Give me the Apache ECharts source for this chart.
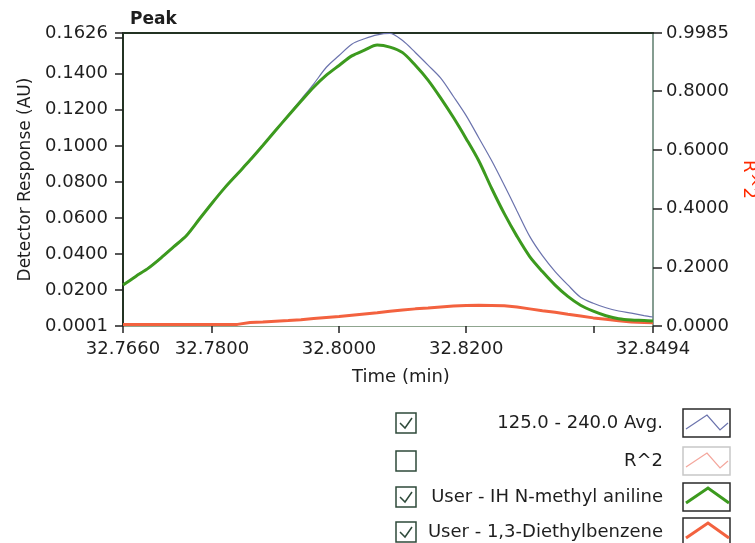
<!DOCTYPE html>
<html><head><meta charset="utf-8">
<script src="https://cdn.jsdelivr.net/npm/echarts@6/dist/echarts.min.js"></script>
<style>html,body{margin:0;padding:0;background:#fff}#c{width:755px;height:543px}</style>
</head><body><div id="c"></div>
<script>
// ---- data ----
const times = [32.766,32.768,32.770,32.772,32.774,32.776,32.778,32.780,32.782,32.784,32.786,32.788,32.790,32.792,32.794,32.796,32.798,32.800,32.802,32.804,32.806,32.808,32.810,32.812,32.814,32.816,32.818,32.820,32.822,32.824,32.826,32.828,32.830,32.832,32.834,32.836,32.838,32.840,32.842,32.844,32.846,32.848,32.8494];
const avg = [0.0231,0.0279,0.0325,0.0382,0.0444,0.0506,0.0596,0.0685,0.0770,0.0847,0.0924,0.1005,0.1088,0.1171,0.1257,0.1343,0.1436,0.1501,0.1564,0.1594,0.1616,0.1624,0.1584,0.1518,0.1448,0.1376,0.1274,0.1168,0.1044,0.0919,0.0782,0.0639,0.0498,0.0391,0.0303,0.0229,0.0160,0.0127,0.0102,0.0084,0.0072,0.0059,0.0051];
const nma = [0.0228,0.0276,0.0322,0.0379,0.0441,0.0503,0.0593,0.0682,0.0767,0.0844,0.0921,0.1002,0.1085,0.1167,0.1247,0.1325,0.1392,0.1446,0.1499,0.1531,0.1559,0.1548,0.1517,0.1447,0.1365,0.1265,0.1157,0.1040,0.0916,0.0765,0.0624,0.0498,0.0386,0.0303,0.0228,0.0165,0.0116,0.0083,0.0058,0.0041,0.0034,0.0032,0.0029];
const deb = [0.0010,0.0010,0.0010,0.0010,0.0010,0.0010,0.0010,0.0010,0.0010,0.0010,0.0020,0.0023,0.0027,0.0031,0.0036,0.0042,0.0048,0.0054,0.0061,0.0068,0.0075,0.0083,0.0090,0.0096,0.0101,0.0107,0.0112,0.0115,0.0116,0.0115,0.0113,0.0106,0.0096,0.0086,0.0077,0.0066,0.0056,0.0046,0.0038,0.0030,0.0023,0.0020,0.0019];
const leftTicks = [0.0001,0.02,0.04,0.06,0.08,0.10,0.12,0.14,0.16,0.1626];
const leftLabels = [0.0001,0.02,0.04,0.06,0.08,0.10,0.12,0.14,0.1626];
const rightTicks = [0,0.2,0.4,0.6,0.8,0.9985];
const xTicks = [32.766,32.78,32.80,32.82,32.84,32.8494];
const xLabels = [32.766,32.78,32.80,32.82,32.8494];
const legendNames = ['125.0 - 240.0 Avg.','R^2','User - IH N-methyl aniline','User - 1,3-Diethylbenzene'];
const legendChecked = [true,false,true,true];

// ---- styles ----
const FONT = 'DejaVu Sans';
const TXT = '#1e1e1e';
const C_AVG = '#6b73ad', C_R2 = '#f4a69c', C_NMA = '#3c9a1e', C_DEB = '#f3623f';
const pair = arr => times.map((t,i)=>[t,arr[i]]);
const fmt4 = v => Number(v).toFixed(4);

const legendY = [423,461,497,532];
const legendColors = [C_AVG,C_R2,C_NMA,C_DEB];
const legendWidths = [1.2,1.2,3,3];
const graphics = [];
legendNames.forEach((name,i)=>{
  const cy = legendY[i];
  graphics.push({type:'rect',shape:{x:396,y:cy-10,width:20,height:20},style:{fill:'#fff',stroke:'#2e4a3a',lineWidth:1.5}});
  if (legendChecked[i]) graphics.push({type:'polyline',shape:{points:[[400,cy],[405,cy+5],[412,cy-5]]},style:{fill:null,stroke:'#2e4a3a',lineWidth:1.5}});
  graphics.push({type:'text',style:{text:name,x:663,y:cy,align:'right',verticalAlign:'middle',font:'18px "'+FONT+'"',fill:TXT}});
  graphics.push({type:'rect',shape:{x:683,y:cy-14,width:47,height:28},style:{fill:'#fff',stroke:i===1?'#c8c8c8':'#2a2a2a',lineWidth:1.5}});
  const pts = legendWidths[i] < 2
    ? [[686,cy+6],[707,cy-8],[720,cy+7],[728,cy]]
    : [[686,cy+6],[708,cy-9],[729,cy+6]];
  graphics.push({type:'polyline',shape:{points:pts},style:{fill:null,stroke:legendColors[i],lineWidth:legendWidths[i]}});
});

const chart = echarts.init(document.getElementById('c'));
chart.setOption({
  animation:false,
  backgroundColor:'#fff',
  textStyle:{fontFamily:FONT},
  title:{text:'Peak',left:125,top:6,textStyle:{fontFamily:FONT,fontWeight:'bold',fontSize:17,color:TXT}},
  grid:{left:123,right:102,top:33,bottom:217,containLabel:false,outerBoundsMode:'none'},
  xAxis:[{
    type:'value',min:32.766,max:32.8494,position:'bottom',
    axisLine:{show:true,lineStyle:{color:'#8fa58f',width:1}},
    axisTick:{show:true,inside:false,length:7,customValues:xTicks,lineStyle:{color:'#222',width:1.5}},
    axisLabel:{customValues:xLabels,formatter:fmt4,margin:14,fontSize:18,color:TXT,fontFamily:FONT},
    splitLine:{show:false},
    name:'Time (min)',nameLocation:'middle',nameGap:42,
    nameTextStyle:{fontSize:18,color:TXT,fontFamily:FONT,padding:[0,0,0,26]}
  },{
    type:'value',min:32.766,max:32.8494,position:'top',
    axisLine:{show:true,lineStyle:{color:'#233323',width:2}},
    axisTick:{show:false},axisLabel:{show:false},splitLine:{show:false}
  }],
  yAxis:[{
    type:'value',min:0.0001,max:0.1626,position:'left',
    axisLine:{show:true,lineStyle:{color:'#233323',width:2}},
    axisTick:{show:true,length:8,customValues:leftTicks,lineStyle:{color:'#222',width:1.5}},
    axisLabel:{customValues:leftLabels,formatter:fmt4,margin:15,fontSize:18,color:TXT,fontFamily:FONT},
    splitLine:{show:false},
    name:'Detector Response (AU)',nameLocation:'middle',nameGap:88,
    nameTextStyle:{fontSize:17,color:TXT,fontFamily:FONT}
  },{
    type:'value',min:0,max:0.9985,position:'right',
    axisLine:{show:true,lineStyle:{color:'#5d7d6d',width:1.5}},
    axisTick:{show:true,length:9,customValues:rightTicks,lineStyle:{color:'#222',width:1.5}},
    axisLabel:{customValues:rightTicks,formatter:fmt4,margin:13,fontSize:18,color:TXT,fontFamily:FONT},
    splitLine:{show:false},
    name:'R^2',nameLocation:'middle',nameGap:87,nameRotate:-90,
    nameTextStyle:{fontSize:18,color:'#ff2a00',fontFamily:FONT}
  }],
  series:[
    {name:'User - 1,3-Diethylbenzene',type:'line',data:pair(deb),showSymbol:false,symbol:'none',lineStyle:{color:C_DEB,width:3},itemStyle:{color:C_DEB},z:2},
    {name:'125.0 - 240.0 Avg.',type:'line',data:pair(avg),showSymbol:false,symbol:'none',smooth:0.3,lineStyle:{color:C_AVG,width:1.2},itemStyle:{color:C_AVG},z:3},
    {name:'User - IH N-methyl aniline',type:'line',data:pair(nma),showSymbol:false,symbol:'none',smooth:0.3,lineStyle:{color:C_NMA,width:3},itemStyle:{color:C_NMA},z:4}
  ],
  graphic:graphics
});
</script>
</body></html>
